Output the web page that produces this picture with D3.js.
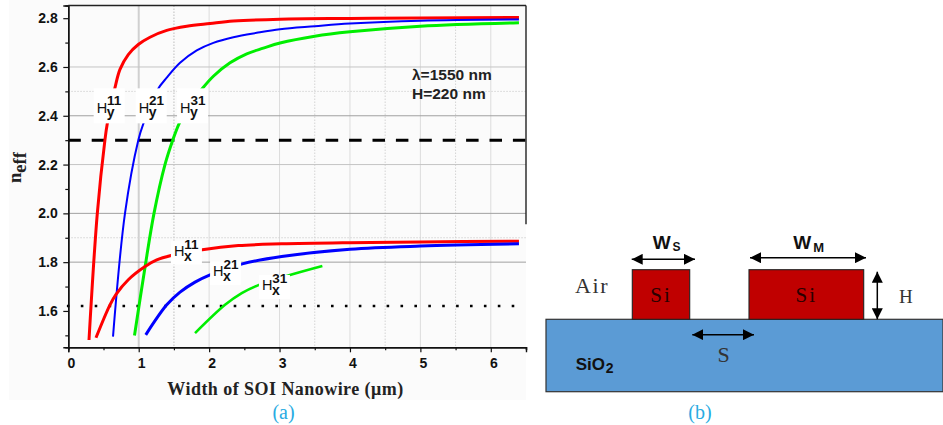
<!DOCTYPE html>
<html><head><meta charset="utf-8">
<script src="https://cdn.jsdelivr.net/npm/d3@7/dist/d3.min.js"></script>
<style>html,body{margin:0;padding:0;background:#fff;overflow:hidden}svg{display:block}</style>
</head><body><svg id="c" width="943" height="425"></svg>
<script>
// --- chart data (width in um, effective index) ---
const hy11 = [[0.294,1.481],[0.412,2.0],[0.52,2.3],[0.554,2.368],[0.663,2.515],[0.734,2.59],[0.852,2.651],[0.994,2.692],[1.16,2.722],[1.398,2.75],[1.682,2.767],[2.013,2.778],[2.344,2.788],[3.007,2.796],[4,2.799],[5,2.801],[6.4,2.803]];
const hy21 = [[0.635,1.495],[0.805,2.0],[0.994,2.3],[1.065,2.367],[1.27,2.508],[1.398,2.556],[1.587,2.617],[1.824,2.668],[2.06,2.699],[2.344,2.722],[2.676,2.74],[3.007,2.755],[3.5,2.767],[4,2.778],[5,2.79],[6.4,2.795]];
const hy31 = [[0.94,1.499],[1.09,1.78],[1.217,2.0],[1.373,2.2],[1.483,2.3],[1.577,2.37],[1.72,2.445],[1.881,2.504],[2.06,2.562],[2.297,2.617],[2.534,2.654],[2.77,2.677],[3.007,2.698],[3.5,2.726],[4,2.744],[5,2.767],[6.4,2.781]];
const hx11 = [[0.393,1.49],[0.592,1.625],[0.678,1.668],[0.852,1.728],[1.09,1.782],[1.256,1.809],[1.459,1.827],[1.903,1.851],[2.415,1.868],[3.03,1.875],[4,1.88],[5,1.883],[6.4,1.886]];
const hx21 = [[1.1,1.502],[1.398,1.625],[1.587,1.677],[1.8,1.718],[2.013,1.748],[2.472,1.793],[3.03,1.823],[4,1.853],[5,1.866],[6.4,1.875]];
const hx31 = [[1.8,1.509],[2.226,1.625],[2.463,1.673],[2.709,1.707],[3.159,1.748],[3.608,1.784]];
const curveNames = ["hy11","hy21","hy31","hx11","hx21","hx31"];
const siCutoff = [2.3];
const oxideIndex = [1.62];
const xMajor = [0,1,2,3,4,5,6];
const xMinor = [0.5,1.5,2.5,3.5,4.5,5.5,6.5];
const yMajor = [1.6,1.8,2.0,2.2,2.4,2.6,2.8];
const yMinor = [1.5,1.7,1.9,2.1,2.3,2.5,2.7];
const xGridSolid = [1,2,3,4,5,6];
const xGridDotted = [1.5,3.5,4.5,5.5];
const yGridSolid = [1.8,2.0,2.2,2.4,2.6];
const yGridDotted = [1.9,2.5];
const modeLabels = [["H","11","y",0.403,2.412],["H","21","y",1.0,2.412],["H","31","y",1.587,2.412],["H","11","x",1.5,1.827],["H","21","x",2.056,1.743],["H","31","x",2.75,1.686]];
const noteLines = ["λ=1550 nm","H=220 nm"];
// --- schematic data (arbitrary drawing units) ---
const siBlocks = [["Si",86.3,143.7],["Si",203,317.7]];
const siTop = [122];
const siBottom = [72.4];
const hArrow = [331.3,120,72.4];
const widthArrows = [[85.7,149,132.4],[204,320,134],[146.3,208,57]];
const captions = ["(a)","(b)"];

const svg = d3.select("#c");
const x = d3.scaleLinear().domain([0,6.5]).range([68.3,526]);
const y = d3.scaleLinear().domain([1.451,2.852]).range([347.3,5.5]);
const sans="'Liberation Sans',Arial,sans-serif", serif="'Liberation Serif',serif";

svg.append("rect").attr("x",9).attr("y",0).attr("width",517).attr("height",400).attr("fill","#fbfbfb");

// grid
const grid = svg.append("g");
grid.selectAll(".vd").data(xGridDotted).join("line").attr("class","vd").attr("x1",d=>x(d)).attr("x2",d=>x(d)).attr("y1",y.range()[1]).attr("y2",y.range()[0]).attr("stroke","#d4d4d4").attr("stroke-dasharray","1.5 1.5").attr("stroke-width",d=>d===1.5?1.6:1);
grid.selectAll(".vs").data(xGridSolid).join("line").attr("class","vs").attr("x1",d=>x(d)).attr("x2",d=>x(d)).attr("y1",y.range()[1]).attr("y2",y.range()[0]).attr("stroke",d=>d===1?"#d0d0d0":"#dcdcdc").attr("stroke-width",d=>d===1?2:1);
grid.selectAll(".hd").data(yGridDotted).join("line").attr("class","hd").attr("x1",x(0)).attr("x2",x(6.5)).attr("y1",d=>y(d)).attr("y2",d=>y(d)).attr("stroke","#d4d4d4").attr("stroke-dasharray","1.5 1.5");
grid.selectAll(".hs").data(yGridSolid).join("line").attr("class","hs").attr("x1",x(0)).attr("x2",x(6.5)).attr("y1",d=>y(d)).attr("y2",d=>y(d)).attr("stroke",d=>(d===2.4||d===1.8||d===2.0)?"#a0a0a0":"#c4c4c4");

// reference lines
svg.selectAll(".dash").data(siCutoff).join("line").attr("class","dash").attr("x1",x(0)).attr("x2",x(6.5)).attr("y1",d=>y(d)).attr("y2",d=>y(d)).attr("stroke","#000").attr("stroke-width",3).attr("stroke-dasharray","12.5 10.9");
svg.selectAll(".dot").data(oxideIndex).join("line").attr("class","dot").attr("x1",x(-0.02)).attr("x2",x(6.37)).attr("y1",d=>y(d)).attr("y2",d=>y(d)).attr("stroke","#000").attr("stroke-width",2.6).attr("stroke-dasharray","2.6 11.3");

// curves
const line = d3.line().x(d=>x(d[0])).y(d=>y(d[1])).curve(d3.curveCatmullRom.alpha(0.5));
const curves = [[hy11,"#ff0000",3],[hy21,"#0000ff",2],[hy31,"#00ee00",3],[hx11,"#ff0000",3],[hx21,"#0000ff",3],[hx31,"#00ee00",2.6]];
svg.append("g").selectAll("path").data(curves).join("path").attr("class",(d,i)=>curveNames[i]).attr("d",d=>line(d[0])).attr("fill","none").attr("stroke",d=>d[1]).attr("stroke-width",d=>d[2]);

// mode labels with white halos
const lab = svg.append("g").attr("font-family",sans).attr("fill","#111");
modeLabels.forEach(m=>{
  const px=x(m[3]), py=y(m[4]);
  const isY=m[2]==="y";
  const up=isY?8:7, down=isY?4.5:5.2;
  lab.append("rect").attr("x",px-3).attr("y",py-(isY?24.5:15)).attr("width",31).attr("height",isY?35:24).attr("fill","#fff");
  const tx=lab.append("text").attr("x",px).attr("y",py).attr("font-size",14.5).attr("font-weight",500);
  tx.append("tspan").text(m[0]);
  tx.append("tspan").attr("x",px+10.4).attr("dy",-up).attr("font-size",13.5).attr("font-weight",700).text(m[1]);
  tx.append("tspan").attr("x",px+10).attr("dy",up+down).attr("font-size",14).attr("font-weight",700).text(m[2]);
});

// axes
const yAxis = d3.axisLeft(y).tickValues(yMajor).tickSize(5).tickPadding(5.5).tickFormat(d3.format(".1f"));
const yAxisMin = d3.axisLeft(y).tickValues(yMinor).tickSize(3).tickFormat("");
const xAxis = d3.axisBottom(x).tickValues(xMajor).tickSize(5).tickPadding(5.7).tickFormat(d3.format("d"));
const xAxisMin = d3.axisBottom(x).tickValues(xMinor).tickSize(3).tickFormat("");
function style(g){g.attr("font-family",sans).attr("font-size",14).attr("font-weight",700).attr("color","#111");g.select(".domain").attr("stroke-width",1.4);g.selectAll(".tick line").attr("stroke-width",1.2);}
svg.append("g").attr("transform",`translate(${x(0)},0)`).call(yAxisMin).call(style);
svg.append("g").attr("transform",`translate(${x(0)},0)`).call(yAxis).call(style);
svg.append("g").attr("transform",`translate(0,${y(1.451)})`).call(xAxisMin).call(style);
svg.append("g").attr("transform",`translate(0,${y(1.451)})`).call(xAxis).call(style).selectAll("text").attr("dx",2.5);
svg.append("line").attr("x1",x(0)).attr("x2",x(6.5)).attr("y1",y(2.852)).attr("y2",y(2.852)).attr("stroke","#222").attr("stroke-width",1.4);
svg.append("line").attr("x1",x(6.5)).attr("x2",x(6.5)).attr("y1",y(2.852)).attr("y2",y(1.955)).attr("stroke","#222").attr("stroke-width",1.4);

// titles
svg.append("text").attr("x",285.5).attr("y",395).attr("text-anchor","middle").attr("font-family",serif).attr("font-weight",700).attr("font-size",18).attr("fill","#222").attr("letter-spacing",0.45).text("Width of SOI Nanowire (μm)");
const yt = svg.append("text").attr("transform","translate(21,183) rotate(-90)").attr("font-family",serif).attr("font-weight",700).attr("font-size",18.5).attr("fill","#222");
yt.append("tspan").text("n");
yt.append("tspan").attr("dy",5).text("eff");
svg.append("g").selectAll("text").data(noteLines).join("text").attr("x",412).attr("y",(d,i)=>y(2.6)+12.6+i*19.6).attr("font-family",sans).attr("font-weight",700).attr("font-size",15.5).attr("fill","#222").text(d=>d);

// schematic
const bx = d3.scaleLinear().domain([0,397]).range([546,943]);
const by = d3.scaleLinear().domain([0,122]).range([391.7,269.7]);
svg.append("rect").attr("x",bx(0)).attr("y",by(siBottom[0])).attr("width",bx(397)-bx(0)).attr("height",by(0)-by(siBottom[0])).attr("fill","#5b9bd5").attr("stroke","#333").attr("stroke-width",1.2);
svg.append("g").selectAll("rect").data(siBlocks).join("rect").attr("x",d=>bx(d[1])).attr("y",by(siTop[0])).attr("width",d=>bx(d[2])-bx(d[1])).attr("height",by(siBottom[0])-by(siTop[0])).attr("fill","#c00000").attr("stroke","#222").attr("stroke-width",1.1);
svg.append("g").selectAll("text").data(siBlocks).join("text").attr("x",d=>(bx(d[1])+bx(d[2]))/2).attr("y",302).attr("text-anchor","middle").attr("font-family",serif).attr("font-size",21).attr("fill","#2a0000").attr("letter-spacing",2).text(d=>d[0]);

const defs = svg.append("defs");
defs.append("marker").attr("id","ah").attr("viewBox","0 0 11 11").attr("refX",11).attr("refY",5.5).attr("markerWidth",11).attr("markerHeight",11).attr("markerUnits","userSpaceOnUse").attr("orient","auto-start-reverse").append("path").attr("d","M0 0L11 5.5L0 11Z").attr("fill","#000");
svg.append("g").selectAll("line").data(widthArrows).join("line")
  .attr("x1",d=>bx(d[0])).attr("x2",d=>bx(d[1])).attr("y1",d=>by(d[2])).attr("y2",d=>by(d[2]))
  .attr("stroke","#000").attr("stroke-width",1.5).attr("marker-start","url(#ah)").attr("marker-end","url(#ah)");
svg.append("line").attr("x1",bx(hArrow[0])).attr("x2",bx(hArrow[0])).attr("y1",by(hArrow[1])).attr("y2",by(hArrow[2])).attr("stroke","#000").attr("stroke-width",1.5).attr("marker-start","url(#ah)").attr("marker-end","url(#ah)");

function t(tx,ty,s,fs,fam,w,col,anchor){return svg.append("text").attr("x",tx).attr("y",ty).attr("font-size",fs).attr("font-family",fam).attr("font-weight",w||400).attr("fill",col||"#222").attr("text-anchor",anchor||"start").text(s);}
t(652.7,249,"W",19,sans,700,"#111"); t(672.5,251,"S",12,sans,700,"#111");
t(793.3,249,"W",19,sans,700,"#111"); t(813.3,251.7,"M",13,sans,700,"#111");
t(575,293,"Air",22,serif,400,"#333").attr("letter-spacing",1.6);
t(899,303,"H",19,serif,400,"#333");
t(723.5,362.3,"S",22,serif,400,"#333","middle");
t(575.7,370,"SiO",17,sans,700,"#111"); t(605.7,372.7,"2",14,sans,700,"#111");
t(283.5,419,captions[0],20,serif,400,"#29abe2","middle");
t(700,419,captions[1],20,serif,400,"#29abe2","middle");
</script></body></html>
